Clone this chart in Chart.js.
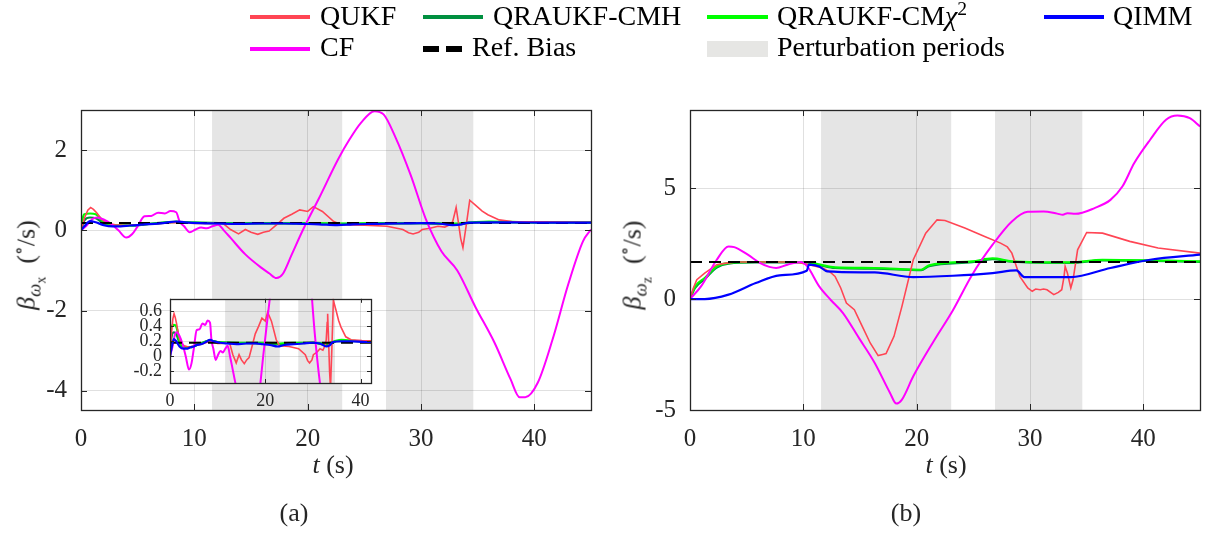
<!DOCTYPE html>
<html>
  <head>
    <title>Gyro bias estimates</title>
    <script src="https://cdn.jsdelivr.net/npm/chart.js"></script>
    <style>
      body {
        margin: 0;
        width: 1216px;
        height: 534px;
        background: #fff;
        overflow: hidden;
        position: relative;
        font-family: "Liberation Serif", "DejaVu Serif", serif;
      }
      canvas {
        position: absolute;
      }
      .sw {
        position: absolute;
        height: 4px;
      }
      .lt {
        position: absolute;
        font-size: 28px;
        line-height: 34px;
        color: #000;
        white-space: nowrap;
      }
      .yt,
      .xt {
        position: absolute;
        white-space: nowrap;
        font-size: 26px;
        line-height: 26px;
        color: #262626;
      }
      .yt {
        transform: translate(-50%, -50%) rotate(-90deg);
      }
      .xt {
        transform: translate(-50%, -50%);
      }
      sub,
      sup {
        line-height: 0;
      }
    </style>
  </head>
  <body>
    <canvas id="chartA" width="600" height="534" style="left: 0; top: 0"></canvas>
    <canvas id="chartB" width="616" height="534" style="left: 600px; top: 0"></canvas>
    <canvas id="inset" width="270" height="135" style="left: 110px; top: 280px"></canvas>

    <!-- legend -->
    <div class="sw" style="left: 250px; top: 15px; width: 60px; background: #ff4554"></div>
    <div class="lt" style="left: 320px; top: -1px">QUKF</div>
    <div class="sw" style="left: 423px; top: 15px; width: 60px; background: #009040"></div>
    <div class="lt" style="left: 493px; top: -1px">QRAUKF-CMH</div>
    <div class="sw" style="left: 707px; top: 15px; width: 61px; background: #00ff00"></div>
    <div class="lt" style="left: 777px; top: -1px">QRAUKF-CM<i>χ</i><sup style="font-size: 0.7em">2</sup></div>
    <div class="sw" style="left: 1044px; top: 15px; width: 60px; background: #0000ff"></div>
    <div class="lt" style="left: 1113px; top: -1px">QIMM</div>

    <div class="sw" style="left: 250px; top: 47px; width: 60px; background: #ff00ff"></div>
    <div class="lt" style="left: 320px; top: 30px">CF</div>
    <div class="sw" style="left: 423px; top: 46px; width: 16px; height: 6px; background: #000"></div>
    <div class="sw" style="left: 446px; top: 46px; width: 16px; height: 6px; background: #000"></div>
    <div class="lt" style="left: 472px; top: 30px">Ref. Bias</div>
    <div class="sw" style="left: 707px; top: 41px; width: 61px; height: 16px; background: #e6e6e4"></div>
    <div class="lt" style="left: 777px; top: 30px">Perturbation periods</div>

    <!-- axis titles -->
    <div class="yt" style="left: 27px; top: 265px">
      <i>β</i><sub style="font-size: 0.72em"><i>ω</i><sub style="font-size: 0.75em">x</sub></sub>&nbsp; (<sup style="font-size: 0.7em">∘</sup>/s)
    </div>
    <div class="yt" style="left: 633px; top: 265px">
      <i>β</i><sub style="font-size: 0.72em"><i>ω</i><sub style="font-size: 0.75em">z</sub></sub>&nbsp; (<sup style="font-size: 0.7em">∘</sup>/s)
    </div>
    <div class="xt" style="left: 333px; top: 465px"><i>t</i> (s)</div>
    <div class="xt" style="left: 946px; top: 465px"><i>t</i> (s)</div>
    <div class="xt" style="left: 294px; top: 513px">(a)</div>
    <div class="xt" style="left: 906px; top: 513px">(b)</div>

    <script>
      // perturbation periods (s)
      const shadeStart = [11.56, 26.9];
      const shadeEnd = [23.07, 34.64];

      // tick values
      const xTicks = [0, 10, 20, 30, 40];
      const yTicksA = [-4, -2, 0, 2];
      const yTicksB = [-5, 0, 5];
      const xTicksInset = [0, 20, 40];
      const yTicksInset = [-0.2, 0, 0.2, 0.4, 0.6];

      // ---- (a) beta_wx ----
      const qukfA_t = [0, 0.3, 0.6, 0.85, 1.1, 1.4, 1.8, 2.3, 3.0, 4.0, 5.0, 6.0, 7.0, 8.0, 9.0, 10.0, 11.0, 12.0, 12.5, 13.2, 13.9, 14.5, 15.0, 15.6, 16.1, 16.6, 17.3, 17.9, 18.6, 19.3, 20.0, 20.5, 21.3, 22.3, 23.0, 25.0, 27.0, 28.4, 28.9, 29.3, 29.8, 30.1, 30.8, 31.5, 32.1, 32.6, 32.8, 33.0, 33.1, 33.3, 33.5, 33.7, 34.0, 34.3, 34.8, 35.4, 35.9, 36.9, 38.0, 40.3, 45];
      const qukfA_v = [0, 0.3, 0.5, 0.57, 0.52, 0.43, 0.28, 0.18, 0.14, 0.12, 0.14, 0.15, 0.17, 0.19, 0.19, 0.17, 0.17, 0.18, 0.18, 0.02, -0.09, 0.02, -0.05, -0.1, -0.05, -0.02, 0.15, 0.3, 0.4, 0.51, 0.47, 0.59, 0.47, 0.22, 0.14, 0.13, 0.1, 0.02, -0.06, -0.09, -0.05, 0.02, 0.05, 0.1, 0.08, 0.15, 0.22, 0.45, 0.57, 0.2, -0.2, -0.43, 0.14, 0.75, 0.63, 0.48, 0.39, 0.26, 0.22, 0.21, 0.2];

      const cmhA_t = [0, 0.3, 0.8, 1.3, 2.0, 3.0, 4.5, 6, 8.4, 10, 13, 20, 23, 30, 33, 35, 40, 45];
      const cmhA_v = [0, 0.25, 0.32, 0.3, 0.18, 0.12, 0.12, 0.16, 0.21, 0.19, 0.18, 0.17, 0.16, 0.18, 0.15, 0.2, 0.2, 0.19];

      const chiA_t = [0, 0.15, 0.3, 0.8, 1.3, 1.7, 2.1, 2.6, 3.5, 4.5, 5.6, 7, 8.4, 10, 13, 17, 20, 23, 26, 30, 33, 34.5, 36, 40, 45];
      const chiA_v = [0, 0.3, 0.4, 0.42, 0.4, 0.3, 0.17, 0.13, 0.12, 0.12, 0.15, 0.18, 0.21, 0.19, 0.18, 0.18, 0.18, 0.17, 0.18, 0.18, 0.17, 0.2, 0.22, 0.2, 0.2];

      const qimmA_t = [0, 0.3, 0.8, 1.3, 2.0, 2.8, 3.5, 4.3, 5.0, 5.6, 6.5, 7.5, 8.4, 9.2, 10.5, 12, 14, 16, 18, 19.5, 21, 22.6, 24, 26, 28, 30, 31.5, 32.8, 33.6, 34.2, 36, 38, 41, 45];
      const qimmA_v = [0, 0.1, 0.23, 0.2, 0.13, 0.1, 0.1, 0.12, 0.13, 0.15, 0.16, 0.19, 0.22, 0.2, 0.18, 0.17, 0.16, 0.17, 0.17, 0.16, 0.15, 0.13, 0.15, 0.16, 0.17, 0.18, 0.17, 0.13, 0.15, 0.19, 0.2, 0.2, 0.19, 0.19];

      const cfA_t = [0, 0.5, 1.0, 1.4, 2.0, 2.7, 3.3, 4.0, 4.5, 5.0, 5.6, 6.2, 6.8, 7.4, 7.9, 8.4, 8.7, 9.1, 9.6, 10.1, 10.6, 11.1, 11.6, 12.1, 12.6, 13.2, 14.5, 15.9, 16.6, 17.25, 17.8, 18.6, 19.6, 21.0, 22.7, 23.7, 24.7, 25.9, 26.7, 27.7, 29.1, 30.4, 31.8, 33.2, 34.8, 36.5, 37.9, 38.7, 39.2, 40.3, 41.6, 43.0, 44.3, 45];
      const cfA_v = [0, 0.12, 0.28, 0.32, 0.27, 0.15, 0.0, -0.18, -0.1, 0.1, 0.35, 0.36, 0.44, 0.42, 0.48, 0.45, 0.22, 0.1, -0.05, 0.02, 0.07, 0.05, 0.1, 0.14, 0.0, -0.19, -0.6, -0.93, -1.07, -1.19, -1.09, -0.6, 0.02, 0.8, 1.78, 2.27, 2.68, 2.97, 2.89, 2.35, 1.37, 0.3, -0.52, -1.0, -1.91, -2.81, -3.71, -4.16, -4.16, -3.8, -2.73, -1.34, -0.27, 0.02];

      const refA = 0.18;

      // ---- (b) beta_wz ----
      const qukfB_t = [0, 0.3, 0.6, 1.3, 2.36, 3.2, 4.1, 6, 8, 9.3, 10.5, 11.7, 12.4, 12.8, 13.3, 13.8, 14.5, 15.2, 15.9, 16.6, 17.0, 17.3, 18.0, 18.7, 19.7, 20.8, 21.8, 22.5, 24.25, 26.0, 27.4, 28.0, 28.4, 29.1, 29.8, 30.2, 30.5, 30.9, 31.2, 31.5, 32.1, 32.5, 32.8, 33.0, 33.1, 33.3, 33.6, 33.8, 34.2, 35.0, 36.4, 38.8, 41.3, 45];
      const qukfB_v = [0, 0.5, 0.87, 1.17, 1.55, 1.62, 1.67, 1.67, 1.67, 1.67, 1.55, 1.4, 1.2, 1.02, 0.5, -0.18, -0.48, -1.23, -1.98, -2.55, -2.5, -2.46, -1.68, -0.33, 1.77, 2.97, 3.57, 3.54, 3.2, 2.82, 2.52, 2.35, 2.07, 1.02, 0.5, 0.35, 0.45, 0.42, 0.45, 0.42, 0.2, 0.3, 0.42, 1.0, 1.47, 1.17, 0.5, 0.87, 2.22, 3.0, 2.97, 2.6, 2.3, 2.07];

      const chiB_t = [0, 0.45, 1.3, 2.36, 3.4, 5.8, 10.35, 11.5, 12.8, 16.3, 20.4, 21.1, 24.9, 26.7, 28.4, 33.6, 36.4, 45];
      const chiB_v = [0, 0.57, 0.95, 1.47, 1.62, 1.67, 1.67, 1.55, 1.43, 1.4, 1.32, 1.52, 1.7, 1.83, 1.7, 1.65, 1.77, 1.7];
      const cmhB_t = chiB_t;
      const cmhB_v = [0, 0.5, 0.9, 1.42, 1.6, 1.65, 1.65, 1.52, 1.4, 1.37, 1.3, 1.48, 1.66, 1.8, 1.68, 1.63, 1.74, 1.68];

      const qimmB_t = [0, 1.3, 3.4, 5.8, 7.9, 10.3, 10.5, 11.4, 12.1, 16.3, 19.7, 23.2, 26.7, 28.8, 29.5, 33.6, 37.1, 40.6, 45];
      const qimmB_v = [0, 0, 0.2, 0.72, 1.07, 1.28, 1.55, 1.47, 1.25, 1.2, 0.99, 1.05, 1.17, 1.29, 0.99, 0.99, 1.4, 1.77, 2.0];

      const cfB_t = [0, 0.97, 2.36, 3.4, 3.9, 5.1, 6.2, 7.0, 7.6, 8.6, 9.8, 10.35, 11.4, 12.4, 13.5, 14.9, 16.3, 17.65, 18.2, 18.7, 19.7, 21.5, 23.2, 24.9, 26.7, 28.4, 29.8, 31.2, 32.4, 32.9, 33.3, 34.0, 35.7, 37.1, 38.15, 39.2, 40.6, 42.0, 43.0, 44.1, 45];
      const cfB_v = [0, 0.57, 1.77, 2.37, 2.34, 2.0, 1.62, 1.45, 1.4, 1.55, 1.67, 1.47, 0.57, -0.03, -0.63, -1.75, -2.88, -4.23, -4.71, -4.53, -3.48, -1.9, -0.5, 1.1, 2.45, 3.5, 3.93, 3.95, 3.85, 3.8, 3.87, 3.84, 4.1, 4.47, 5.07, 6.13, 7.18, 8.08, 8.27, 8.15, 7.78];

      const refB = 1.67;

      const C_QUKF = "#ff4554";
      const C_CMH = "#009040";
      const C_CHI = "#00ff00";
      const C_QIMM = "#0000ff";
      const C_CF = "#ff00ff";
      const AXIS = "#262626";

      Chart.defaults.font.family = "'Liberation Serif', 'DejaVu Serif', serif";
      Chart.defaults.color = AXIS;

      function pts(t, v) {
        return t.map((x, i) => ({ x: x, y: v[i] }));
      }

      function line(t, v, color, width, order, smooth) {
        return {
          data: pts(t, v),
          borderColor: color,
          borderWidth: width,
          pointRadius: 0,
          fill: false,
          order: order,
          cubicInterpolationMode: smooth ? "monotone" : "default",
          tension: 0,
        };
      }

      function refLine(value, order) {
        return {
          data: [
            { x: 0, y: value },
            { x: 45, y: value },
          ],
          borderColor: "#000",
          borderWidth: 2,
          borderDash: [12, 7],
          pointRadius: 0,
          fill: false,
          order: order,
        };
      }

      function shades(top) {
        return shadeStart.map((s, i) => ({
          data: [
            { x: s, y: top },
            { x: shadeEnd[i], y: top },
          ],
          borderWidth: 0,
          pointRadius: 0,
          backgroundColor: "rgba(0,0,0,0.1)",
          fill: "start",
          order: 20,
        }));
      }

      // closed box with inward tick marks, MATLAB style
      const boxTicks = {
        id: "boxTicks",
        afterDraw(chart, args, opts) {
          const { ctx, chartArea: a, scales } = chart;
          const len = opts.len || 6;
          ctx.save();
          ctx.strokeStyle = AXIS;
          ctx.lineWidth = 1;
          ctx.beginPath();
          scales.x.ticks.forEach((tk) => {
            const p = Math.round(scales.x.getPixelForValue(tk.value)) + 0.5;
            ctx.moveTo(p, a.bottom);
            ctx.lineTo(p, a.bottom - len);
            ctx.moveTo(p, a.top);
            ctx.lineTo(p, a.top + len);
          });
          scales.y.ticks.forEach((tk) => {
            const p = Math.round(scales.y.getPixelForValue(tk.value)) + 0.5;
            ctx.moveTo(a.left, p);
            ctx.lineTo(a.left + len, p);
            ctx.moveTo(a.right, p);
            ctx.lineTo(a.right - len, p);
          });
          ctx.stroke();
          ctx.lineWidth = 1.3;
          ctx.strokeRect(Math.round(a.left) + 0.5, Math.round(a.top) + 0.5, Math.round(a.right - a.left), Math.round(a.bottom - a.top));
          ctx.restore();
        },
      };

      const whiteBg = {
        id: "whiteBg",
        beforeDraw(chart) {
          const { ctx, chartArea: a } = chart;
          ctx.save();
          ctx.fillStyle = "#fff";
          ctx.fillRect(a.left, a.top, a.right - a.left, a.bottom - a.top);
          ctx.restore();
        },
      };

      function scales(o) {
        return {
          x: {
            type: "linear",
            min: o.xmin,
            max: o.xmax,
            afterBuildTicks: (s) => {
              s.ticks = o.xticks.map((v) => ({ value: v }));
            },
            afterFit: (s) => {
              s.height = o.xh;
            },
            grid: { color: "rgba(0,0,0,0.12)", drawTicks: false },
            border: { display: false },
            ticks: { font: { size: o.fs }, padding: o.xpad, maxRotation: 0, autoSkip: false, callback: (v) => String(v) },
          },
          y: {
            type: "linear",
            min: o.ymin,
            max: o.ymax,
            afterBuildTicks: (s) => {
              s.ticks = o.yticks.map((v) => ({ value: v }));
            },
            afterFit: (s) => {
              s.width = o.yw;
            },
            grid: { color: "rgba(0,0,0,0.12)", drawTicks: false },
            border: { display: false },
            ticks: { font: { size: o.fs }, padding: o.ypad, autoSkip: false, callback: (v) => String(v) },
          },
        };
      }

      function baseOptions(o, pad, len) {
        return {
          responsive: false,
          animation: false,
          devicePixelRatio: 1,
          layout: { padding: pad },
          plugins: { legend: { display: false }, tooltip: { enabled: false }, boxTicks: { len: len } },
          scales: scales(o),
        };
      }

      function datasetsA(top) {
        return [
          line(qimmA_t, qimmA_v, C_QIMM, 2.2, 1, true),
          refLine(refA, 2),
          line(cfA_t, cfA_v, C_CF, 2, 3, true),
          line(qukfA_t, qukfA_v, C_QUKF, 1.6, 4, false),
          line(chiA_t, chiA_v, C_CHI, 2.2, 5, true),
          line(cmhA_t, cmhA_v, C_CMH, 2.2, 6, true),
        ].concat(shades(top));
      }

      // (a)
      new Chart(document.getElementById("chartA"), {
        type: "line",
        data: { datasets: datasetsA(3) },
        options: baseOptions(
          { xmin: 0, xmax: 45, ymin: -4.48, ymax: 3, xticks: xTicks, yticks: yTicksA, xh: 124, yw: 81, fs: 25, xpad: 14, ypad: 14 },
          { top: 110, right: 9, left: 0, bottom: 0 },
          6
        ),
        plugins: [boxTicks],
      });

      // (b)
      new Chart(document.getElementById("chartB"), {
        type: "line",
        data: {
          datasets: [
            line(qimmB_t, qimmB_v, C_QIMM, 2.2, 1, true),
            refLine(refB, 2),
            line(cfB_t, cfB_v, C_CF, 2, 3, true),
            line(qukfB_t, qukfB_v, C_QUKF, 1.6, 4, false),
            line(chiB_t, chiB_v, C_CHI, 2.2, 5, true),
            line(cmhB_t, cmhB_v, C_CMH, 2.2, 6, true),
          ].concat(shades(8.52)),
        },
        options: baseOptions(
          { xmin: 0, xmax: 45, ymin: -5, ymax: 8.52, xticks: xTicks, yticks: yTicksB, xh: 124, yw: 90, fs: 25, xpad: 14, ypad: 14 },
          { top: 110, right: 16, left: 0, bottom: 0 },
          6
        ),
        plugins: [boxTicks],
      });

      // inset of (a)
      new Chart(document.getElementById("inset"), {
        type: "line",
        data: { datasets: datasetsA(0.77) },
        options: baseOptions(
          { xmin: 0, xmax: 42.2, ymin: -0.36, ymax: 0.77, xticks: xTicksInset, yticks: yTicksInset, xh: 32, yw: 60, fs: 18, xpad: 7, ypad: 8 },
          { top: 8, right: 9, left: 0, bottom: 0 },
          4
        ),
        plugins: [whiteBg, boxTicks],
      });
    </script>
  </body>
</html>
